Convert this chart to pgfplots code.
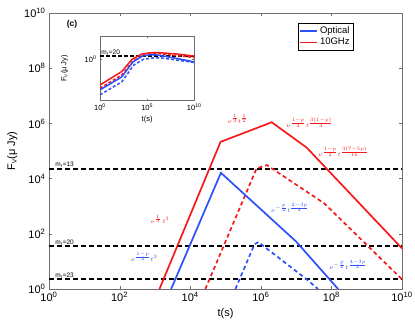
\documentclass[border=0pt]{standalone}
\usepackage{fontspec}
\setmainfont{Liberation Sans}
\usepackage{pgfplots}
\pgfplotsset{compat=1.18}
\definecolor{optblue}{RGB}{45,80,250}
\definecolor{radred}{RGB}{245,25,25}
\definecolor{framegray}{RGB}{110,110,110}

\begin{document}
\begin{tikzpicture}
\useasboundingbox (-49pt,-34pt) rectangle (366pt,289pt);
% main panel
\begin{axis}[
    at={(0pt,0pt)}, anchor=south west,
    scale only axis, width=353pt, height=276pt,
    xmode=log, ymode=log,
    xmin=1, xmax=1e10, ymin=1, ymax=1e10,
    xtick={1,1e2,1e4,1e6,1e8,1e10},
    ytick={1,1e2,1e4,1e6,1e8,1e10},
    xticklabels={10\textsuperscript{0},10\textsuperscript{2},10\textsuperscript{4},10\textsuperscript{6},10\textsuperscript{8},10\textsuperscript{10}},
    yticklabels={10\textsuperscript{0},10\textsuperscript{2},10\textsuperscript{4},10\textsuperscript{6},10\textsuperscript{8},10\textsuperscript{10}},
    xminorticks=false, yminorticks=false,
    tick align=inside, major tick length=3pt,
    tick style={framegray},
    axis line style={framegray, line width=0.8pt},
    tick label style={font=\fontsize{11}{13}\selectfont},
    label style={font=\fontsize{11}{13}\selectfont},
    xlabel={t(s)},
    ylabel={F\textsubscript{ν}(μ Jy)},
    legend style={at={(0.862,0.963)}, anchor=north east, draw=black,
        font=\fontsize{9.5}{11}\selectfont, inner sep=1.5pt, row sep=-1pt,
        legend cell align=left},
]
\addlegendimage{optblue, line width=1.7pt}
\addlegendentry{Optical}
\addlegendimage{radred, line width=1.7pt}
\addlegendentry{10GHz}

% magnitude limits
\addplot[black, line width=1.7pt, dash pattern=on 5pt off 3pt, forget plot]
    coordinates {(1,22910) (1e10,22910)};
\addplot[black, line width=1.7pt, dash pattern=on 5pt off 3pt, forget plot]
    coordinates {(1,36.3) (1e10,36.3)};
\addplot[black, line width=1.7pt, dash pattern=on 5pt off 3pt, forget plot]
    coordinates {(1,2.29) (1e10,2.29)};

% 10 GHz
\addplot[radred, line width=1.7pt, forget plot]
    coordinates {(1349,1) (7.24e4,2.14e5) (2.04e6,1.10e6) (2.0e7,1.32e5) (1e10,29.5)};
\addplot[radred, line width=1.7pt, dash pattern=on 4pt off 3pt, forget plot]
    coordinates {(2.69e4,1) (7.59e5,2.34e4) (1.48e6,3.09e4) (6.31e7,1259) (1e10,2.24)};
% optical
\addplot[optblue, line width=1.7pt, forget plot]
    coordinates {(2884,1) (7.41e4,1.62e4) (1e7,52.5) (1.55e8,1)};
\addplot[optblue, line width=1.7pt, dash pattern=on 4pt off 3pt, forget plot]
    coordinates {(1.91e5,1) (6.61e5,41.7) (8.51e5,50.1) (2.0e7,2.24) (4.17e7,1)};

\node[font=\fontsize{6.5}{7}\selectfont, anchor=south west, inner sep=0.5pt] at (axis cs:1.45,22910) {m\textsubscript{r}=13};
\node[font=\fontsize{6.5}{7}\selectfont, anchor=south west, inner sep=0.5pt] at (axis cs:1.45,36.3) {m\textsubscript{r}=20};
\node[font=\fontsize{6.5}{7}\selectfont, anchor=south west, inner sep=0.5pt] at (axis cs:1.45,2.29) {m\textsubscript{r}=23};
\node[font=\bfseries\fontsize{8.5}{9}\selectfont] at (rel axis cs:0.065,0.96) {(c)};

\node[radred, font=\fontsize{6.5}{7}\selectfont] at (axis cs:2.2e5,1.45e6) {$\nu^{\frac{1}{3}}t^{\frac{1}{2}}$};
\node[radred, font=\fontsize{6.5}{7}\selectfont] at (axis cs:2.45e7,1.07e6) {$\nu^{\frac{1-p}{2}}t^{\frac{3(1-p)}{4}}$};
\node[radred, font=\fontsize{6.5}{7}\selectfont] at (axis cs:2.19e8,9.3e4) {$\nu^{\frac{1-p}{2}}t^{\frac{3(7-5p)}{16}}$};
\node[radred, font=\fontsize{6.5}{7}\selectfont] at (axis cs:1400,340) {$\nu^{\frac{1}{3}}\,t^{3}$};
\node[optblue, font=\fontsize{6.5}{7}\selectfont] at (axis cs:500,14.8) {$\nu^{\frac{1-p}{2}}t^{3}$};
\node[optblue, font=\fontsize{6.5}{7}\selectfont] at (axis cs:6.76e6,891) {$\nu^{-\frac{p}{2}}t^{\frac{2-3p}{4}}$};
\node[optblue, font=\fontsize{6.5}{7}\selectfont] at (axis cs:3.0e8,7.6) {$\nu^{-\frac{p}{2}}t^{\frac{4-3p}{2}}$};
\end{axis}

% inset
\begin{axis}[
    at={(51pt,188.3pt)}, anchor=south west,
    scale only axis, width=94.3pt, height=64.7pt,
    xmode=log, ymode=log,
    xmin=1, xmax=1e10, ymin=6.3e-20, ymax=6.3e10,
    xtick={1,1e5,1e10}, ytick={1},
    xticklabels={10\textsuperscript{0},10\textsuperscript{5},10\textsuperscript{10}},
    yticklabels={10\textsuperscript{0}},
    xminorticks=false, yminorticks=false,
    tick align=inside, major tick length=2pt,
    tick style={framegray},
    axis line style={framegray, line width=0.7pt},
    axis background/.style={fill=white},
    tick label style={font=\fontsize{7.5}{9}\selectfont},
    label style={font=\fontsize{7.5}{9}\selectfont},
    xlabel={t(s)}, ylabel={F\textsubscript{ν}(μ Jy)},
    xlabel style={yshift=2pt},
    ylabel style={yshift=10pt},
]
\addplot[black, line width=1.5pt, dash pattern=on 4pt off 2pt]
    coordinates {(1,36.3) (1e10,36.3)};
\addplot[radred, line width=1.5pt]
    coordinates {(1,1.26e-12) (200,2e-6) (2512,1) (2.51e4,251) (2e5,1000) (1.58e6,1259) (1e8,316) (1e10,31.6)};
\addplot[radred, line width=1.5pt, dash pattern=on 3pt off 2pt]
    coordinates {(1,3.98e-14) (200,5e-8) (3162,0.158) (3.16e4,63.1) (3.16e5,316) (2e6,398) (1e8,63.1) (1e10,6.31)};
\addplot[optblue, line width=1.5pt]
    coordinates {(1,6.31e-15) (200,6.31e-9) (3162,0.063) (3.16e4,31.6) (1.58e5,100) (1e6,100) (1e8,3.16) (1e10,0.063)};
\addplot[optblue, line width=1.5pt, dash pattern=on 3pt off 2pt]
    coordinates {(1,3.16e-17) (200,3.16e-11) (3981,2.5e-3) (3.98e4,1) (3.98e5,3.98) (3.16e6,3.98) (1e8,0.5) (1e10,0.0316)};
\node[font=\fontsize{6.5}{7}\selectfont, anchor=south west, inner sep=0.5pt] at (axis cs:1.2,36.3) {m\textsubscript{r}=20};
\end{axis}
\end{tikzpicture}
\end{document}
